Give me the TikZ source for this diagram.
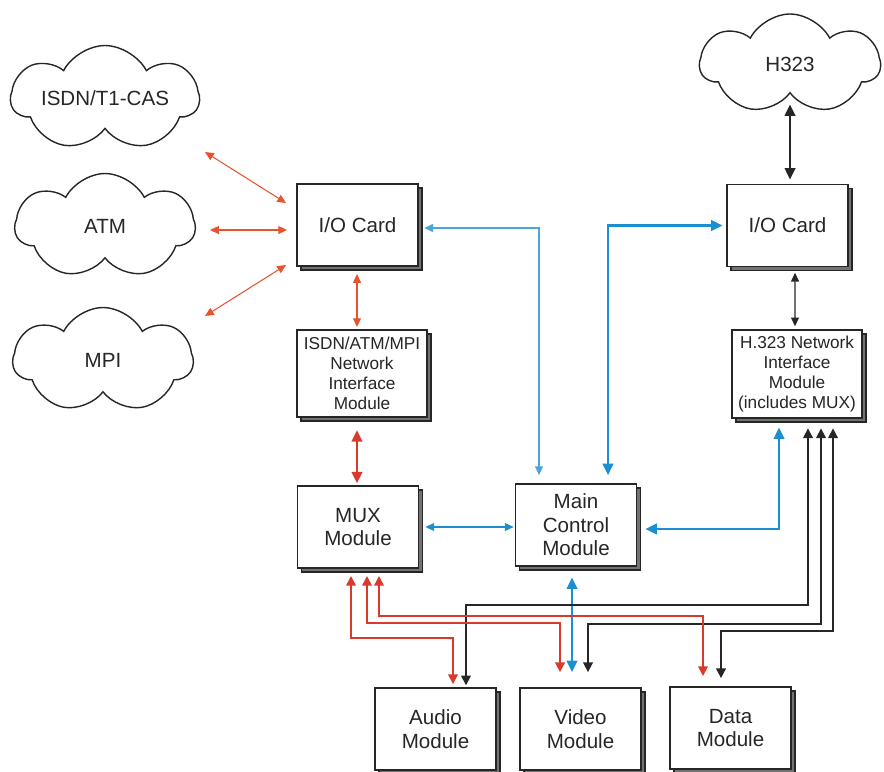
\documentclass[tikz,border=0pt]{standalone}
\usepackage{fontspec}
\setmainfont{Liberation Sans}
\usetikzlibrary{shapes.symbols, arrows.meta, positioning, calc, shadows}

\definecolor{linkred}{HTML}{D93A2B}
\definecolor{netred}{HTML}{E6532E}
\definecolor{linkblue}{HTML}{1C8FD1}
\definecolor{inkgray}{HTML}{262626}

\begin{document}
\begin{tikzpicture}[
    x=0.02cm, y=-0.02cm,
    card/.style={rectangle, draw=inkgray, line width=1.1pt, fill=white, minimum width=2.42cm, minimum height=1.64cm, inner sep=1pt, align=center, text=inkgray, font=\fontsize{11.7}{13.3}\selectfont,
        general shadow={fill=black!55, draw=inkgray, line width=1.1pt, shadow xshift=0.08cm, shadow yshift=-0.08cm}},
    smallcard/.style={card, minimum width=2.6cm, minimum height=1.75cm, font=\fontsize{9.8}{11.3}\selectfont},
    netcloud/.style={cloud, cloud puffs=7, cloud puff arc=125, cloud ignores aspect, draw=inkgray, line width=0.8pt, minimum width=3.6cm, minimum height=2.1cm, text=inkgray, font=\fontsize{11.7}{13.3}\selectfont},
    arrow/.style={arrows={Triangle[length=5pt,width=4.5pt]-Triangle[length=5pt,width=4.5pt]}, line width=0.6pt},
    midarrow/.style={arrows={Triangle[length=5.5pt,width=5.5pt]-Triangle[length=5.5pt,width=5.5pt]}, line width=0.9pt},
    thickarrow/.style={arrows={Triangle[length=6.5pt,width=6pt]-Triangle[length=6.5pt,width=6pt]}, line width=1.2pt}
]
\useasboundingbox (0,0) rectangle (884,771);

% Networks
\node[netcloud] (isdn) at (105,98) {ISDN/T1-CAS};
\node[netcloud] (atm) at (105,226) {ATM};
\node[netcloud] (mpi) at (103,360) {MPI};
\node[netcloud, minimum height=2.0cm] (h323) at (790,64) {H323};

% Modules
\node[card] (iol) at (357.5,225) {I/O Card};
\node[smallcard] (nim) at (362,373.5) {ISDN/ATM/MPI\\Network\\Interface\\Module};
\node[card] (mux) at (358,527) {MUX\\Module};
\node[card] (main) at (576,525) {Main\\Control\\Module};
\node[card] (ior) at (787.5,225.5) {I/O Card};
\node[smallcard] (hnim) at (797,374) {H.323 Network\\Interface\\Module\\(includes MUX)};
\node[card] (audio) at (435.5,729) {Audio\\Module};
\node[card] (video) at (580.5,729) {Video\\Module};
\node[card] (data) at (730.5,728) {Data\\Module};

\coordinate (isdnend) at (205,152);
\coordinate (atmend) at (210,230);
\coordinate (mpiend) at (205,316);

% Connections
\draw[arrow, netred] (isdnend) -- ($(iol.west)+(-10,-22)$);
\draw[arrow, netred] (atmend) -- ($(iol.west)+(-9,5)$);
\draw[arrow, netred] (mpiend) -- ($(iol.west)+(-10,40)$);
\draw[arrow, netred, shorten <=4pt, shorten >=1pt] ($(iol.south)+(-0.5,0)$) -- ($(nim.north)+(-5,0)$);
\draw[thickarrow, linkred, shorten <=6.8pt, shorten >=1pt] ($(nim.south)+(-5,0)$) -- ($(mux.north)+(-1,0)$);
\draw[arrow, linkblue!80, shorten <=3pt, shorten >=4.5pt] ($(iol.east)+(0,3)$) -| ($(main.north)+(-37,0)$);
\draw[thickarrow, linkblue, shorten <=4.5pt, shorten >=2pt] ($(main.north)+(32,0)$) |- (ior.west);
\draw[arrow, linkblue, shorten <=3.4pt, shorten >=0.5pt] (mux.east) -- (mux.east -| main.west);
\draw[thickarrow, linkblue, shorten <=4.5pt, shorten >=5pt] ($(main.east)+(0,4)$) -| ($(hnim.south)+(-18,0)$);
\draw[thickarrow, linkblue, shorten <=6pt, shorten >=8.5pt] ($(main.south)+(-4,0)$) -- ($(video.north)+(-8.5,0)$);
\draw[thickarrow, inkgray, shorten <=6pt, shorten >=2.3pt] (h323.south) -- (h323.south |- ior.north);
\draw[arrow, inkgray, shorten <=3pt, shorten >=1.7pt] ($(ior.south)+(7.5,0)$) -- ($(hnim.north)+(-2,0)$);

% Media lines from the H.323 module
\draw[midarrow, inkgray, shorten <=5.5pt, shorten >=1pt] ($(hnim.south)+(11,0)$) |- ($(audio.north)+(30.5,-82)$) -- ($(audio.north)+(30.5,0)$);
\draw[midarrow, inkgray, shorten <=5.5pt, shorten >=8.5pt] ($(hnim.south)+(24,0)$) |- ($(video.north)+(7.5,-63)$) -- ($(video.north)+(7.5,0)$);
\draw[midarrow, inkgray, shorten <=5.5pt, shorten >=4.5pt] ($(hnim.south)+(36,0)$) |- ($(data.north)+(-9.5,-55)$) -- ($(data.north)+(-9.5,0)$);

% Media lines from the MUX module
\draw[midarrow, linkred, shorten <=4pt, shorten >=1.7pt] ($(mux.south)+(-7,0)$) |- ($(audio.north)+(17.5,-49)$) -- ($(audio.north)+(17.5,0)$);
\draw[midarrow, linkred, shorten <=4pt, shorten >=8.5pt] ($(mux.south)+(9,0)$) |- ($(video.north)+(-20.5,-64)$) -- ($(video.north)+(-20.5,0)$);
\draw[midarrow, linkred, shorten <=4pt, shorten >=5.7pt] ($(mux.south)+(21,0)$) |- ($(data.north)+(-27.5,-70)$) -- ($(data.north)+(-27.5,0)$);

\end{tikzpicture}
\end{document}
